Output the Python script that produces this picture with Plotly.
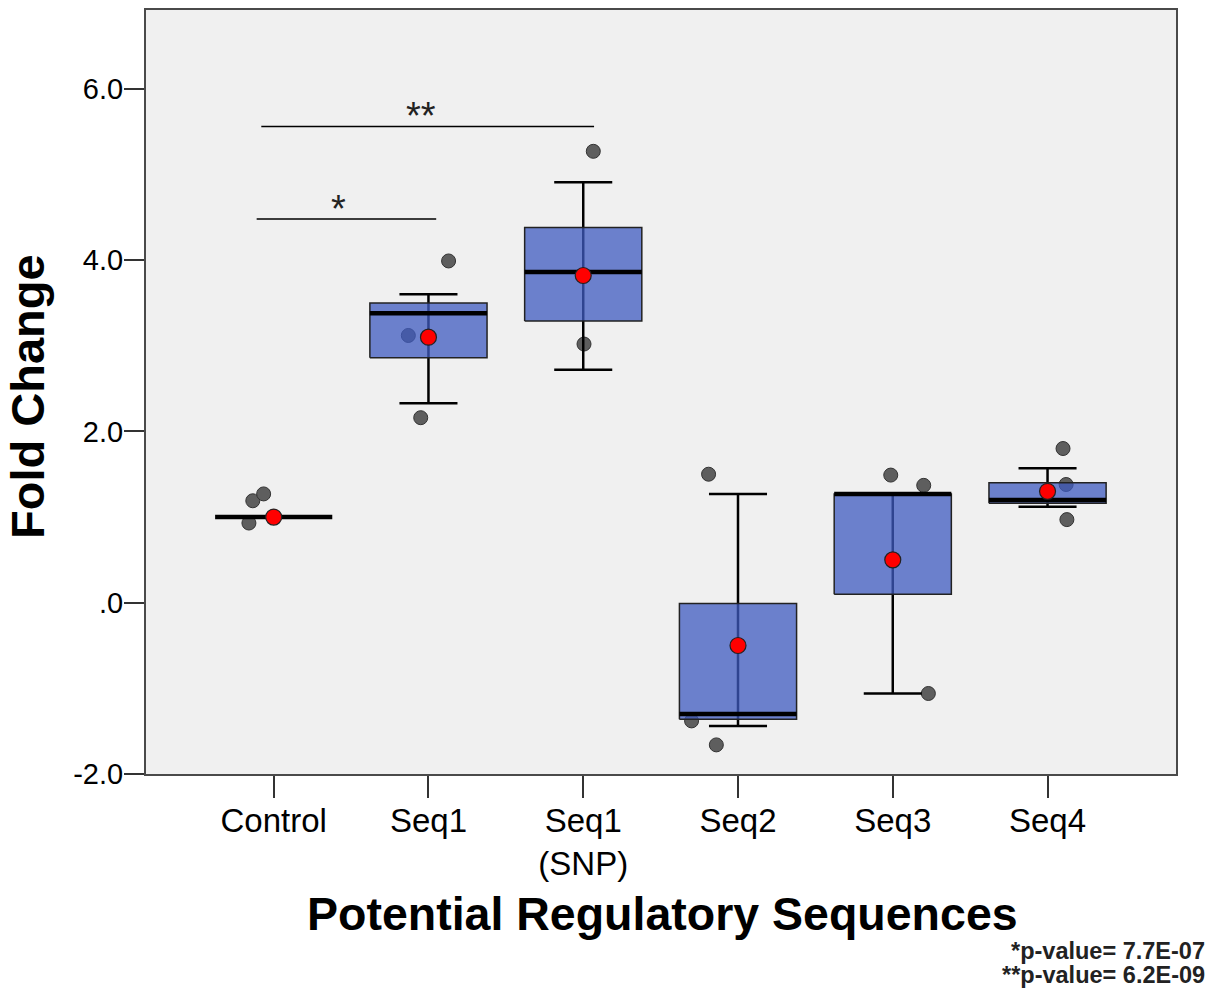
import plotly.graph_objects as go

# ---------------- data ----------------
categories = ["Control", "Seq1", "Seq1<br>(SNP)", "Seq2", "Seq3", "Seq4"]
q1 = [1.0, 2.86, 3.29, -1.36, 0.10, 1.16]
median = [1.0, 3.38, 3.86, -1.30, 1.27, 1.20]
q3 = [1.0, 3.50, 4.38, -0.01, 1.27, 1.40]
lower_fence = [1.0, 2.33, 2.72, -1.44, -1.06, 1.12]
upper_fence = [1.0, 3.60, 4.91, 1.27, 1.27, 1.57]
means = [1.0, 3.10, 3.82, -0.50, 0.50, 1.30]

# individual observations (group index, value) and their horizontal jitter
point_group = [0, 0, 0, 1, 1, 1, 2, 2, 3, 3, 3, 4, 4, 4, 5, 5, 5]
point_value = [0.93, 1.19, 1.27, 3.99, 2.16, 3.12, 5.27, 3.02,
               1.50, -1.38, -1.66, 1.49, 1.37, -1.06, 1.80, 1.38, 0.97]
point_jitter = [-0.16, -0.135, -0.065, 0.13, -0.05, -0.13, 0.065, 0.005,
                -0.19, -0.30, -0.14, -0.013, 0.20, 0.23, 0.10, 0.12, 0.125]

y_tick_values = [-2, 0, 2, 4, 6]
y_tick_labels = ["-2.0", ".0", "2.0", "4.0", "6.0"]

sig_left = [-0.11, -0.08]
sig_right = [1.05, 2.07]
sig_y = [4.48, 5.56]
sig_label = ["*", "**"]
sig_label_x = [0.42, 0.95]

pvalue_notes = ["*p-value= 7.7E-07", "**p-value= 6.2E-09"]

# ---------------- styles ----------------
BOX_W = 0.757
CAP_W = 0.375
FONT = "Liberation Sans, Arial, Helvetica, sans-serif"
BOX_FILL = "rgba(63,91,192,0.75)"

fig = go.Figure()
xs = list(range(len(categories)))

# observation points (drawn first so boxes sit over them)
fig.add_trace(go.Scatter(
    x=[xs[g] + j for g, j in zip(point_group, point_jitter)],
    y=point_value, mode="markers",
    marker=dict(size=14, color="#5e5e5e", line=dict(color="#333333", width=1)),
    hoverinfo="y", showlegend=False))

# whiskers (full vertical line + caps), behind the boxes
wx, wy = [], []
for i in xs:
    if upper_fence[i] == lower_fence[i]:
        continue
    wx += [i, i, None, i - CAP_W / 2, i + CAP_W / 2, None, i - CAP_W / 2, i + CAP_W / 2, None]
    wy += [lower_fence[i], upper_fence[i], None, upper_fence[i], upper_fence[i], None,
           lower_fence[i], lower_fence[i], None]
fig.add_trace(go.Scatter(x=wx, y=wy, mode="lines",
                         line=dict(color="black", width=2.5),
                         hoverinfo="skip", showlegend=False))

# boxes
for i in xs:
    if q3[i] == q1[i]:
        continue
    fig.add_trace(go.Scatter(
        x=[i - BOX_W / 2, i + BOX_W / 2, i + BOX_W / 2, i - BOX_W / 2, i - BOX_W / 2],
        y=[q1[i], q1[i], q3[i], q3[i], q1[i]],
        mode="lines", fill="toself", fillcolor=BOX_FILL,
        line=dict(color="#222222", width=1.5),
        hoverinfo="skip", showlegend=False))

# medians
mx, my = [], []
for i in xs:
    mx += [i - BOX_W / 2, i + BOX_W / 2, None]
    my += [median[i], median[i], None]
fig.add_trace(go.Scatter(x=mx, y=my, mode="lines",
                         line=dict(color="black", width=4.5),
                         hoverinfo="skip", showlegend=False))

# means
fig.add_trace(go.Scatter(
    x=xs, y=means, mode="markers",
    marker=dict(size=16, color="#ff0000", line=dict(color="#222222", width=1.2)),
    hoverinfo="y", showlegend=False))

# significance brackets
bx, by = [], []
for l, r, yv in zip(sig_left, sig_right, sig_y):
    bx += [l, r, None]
    by += [yv, yv, None]
fig.add_trace(go.Scatter(x=bx, y=by, mode="lines",
                         line=dict(color="black", width=1.5),
                         hoverinfo="skip", showlegend=False))
for lx, yv, lab in zip(sig_label_x, sig_y, sig_label):
    fig.add_annotation(x=lx, y=yv, xref="x", yref="y", text=lab, showarrow=False,
                       yanchor="bottom", yshift=-13,
                       font=dict(family=FONT, size=38, color="#222222"))

# axis titles and notes
fig.add_annotation(x=-0.1146, y=0.4948, xref="paper", yref="paper",
                   text="<b>Fold Change</b>", textangle=-90, showarrow=False,
                   xanchor="center", yanchor="middle",
                   font=dict(family=FONT, size=47, color="black"))
fig.add_annotation(x=0.501, y=-0.1828, xref="paper", yref="paper",
                   text="<b>Potential Regulatory Sequences</b>", showarrow=False,
                   xanchor="center", yanchor="middle",
                   font=dict(family=FONT, size=46.5, color="black"))
for k, note in enumerate(pvalue_notes):
    fig.add_annotation(x=1.030, y=-0.2311 - 0.0326 * k, xref="paper", yref="paper",
                       text="<b>" + note + "</b>", showarrow=False,
                       xanchor="right", yanchor="middle",
                       font=dict(family=FONT, size=23.5, color="#222222"))

fig.update_layout(
    width=1216, height=994,
    margin=dict(l=146, r=40, t=8, b=220),
    paper_bgcolor="white", plot_bgcolor="#f0f0f0",
    showlegend=False,
    xaxis=dict(range=[-0.825, 5.83], tickmode="array", tickvals=xs, ticktext=categories,
               showgrid=False, zeroline=False, showline=True, mirror=True,
               linecolor="#4a4a4a", linewidth=2,
               ticks="outside", ticklen=22, tickwidth=1.5, tickcolor="#333333",
               ticklabelstandoff=-6,
               tickfont=dict(family=FONT, size=33, color="black")),
    yaxis=dict(range=[-2.0, 6.92], tickmode="array", tickvals=y_tick_values,
               ticktext=y_tick_labels,
               showgrid=False, zeroline=False, showline=True, mirror=True,
               linecolor="#4a4a4a", linewidth=2,
               ticks="outside", ticklen=20, tickwidth=1.5, tickcolor="#333333",
               ticklabelstandoff=-5,
               tickfont=dict(family=FONT, size=29, color="black")),
)

fig.write_html("out.html")
